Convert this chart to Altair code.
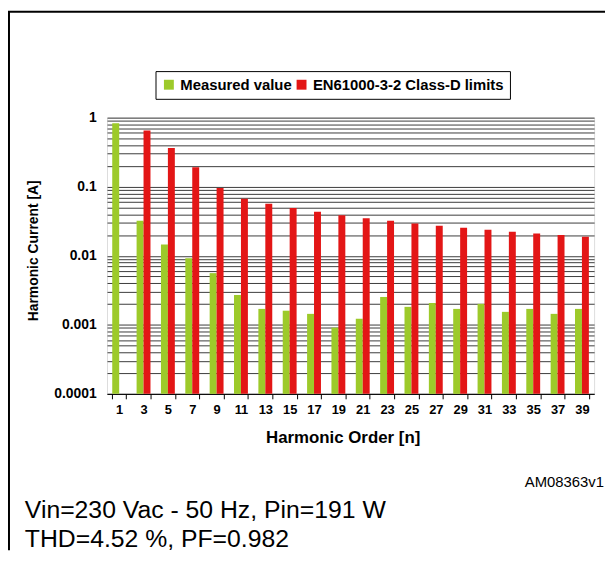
import altair as alt
import pandas as pd

# ---- data ----
orders = [1, 3, 5, 7, 9, 11, 13, 15, 17, 19, 21, 23, 25, 27, 29, 31, 33, 35, 37, 39]
measured = [0.83, 0.0322, 0.0146, 0.0092, 0.0056, 0.0027, 0.0017, 0.0016, 0.00144, 0.00091,
            0.00122, 0.00253, 0.00182, 0.00207, 0.0017, 0.00201, 0.00154, 0.0017, 0.00144, 0.0017]
limits = [None, 0.649, 0.363, 0.191, 0.0955, 0.0669, 0.0566, 0.049, 0.0433, 0.0387,
          0.035, 0.032, 0.0294, 0.0272, 0.0254, 0.0237, 0.0223, 0.021, 0.0199, 0.0189]
series_names = ["Measured value", "EN61000-3-2 Class-D limits"]
series_colors = ["#9DCA2A", "#E31616"]
y_ticks = [round(k * d, 6) for d in [0.0001, 0.001, 0.01, 0.1] for k in range(1, 10)] + [1.0]

rows = []
for n, m, l in zip(orders, measured, limits):
    rows.append({"n": n, "series": series_names[0], "value": m})
    if l is not None:
        rows.append({"n": n, "series": series_names[1], "value": l})
df = pd.DataFrame(rows)

FONT = "Liberation Sans"

bars = alt.Chart(df).mark_bar().encode(
    x=alt.X("n:O", sort=orders,
            scale=alt.Scale(paddingInner=0.43, paddingOuter=0.215),
            axis=alt.Axis(title="Harmonic Order [n]", labelAngle=0, labelFont=FONT,
                          labelFontSize=13, labelFontWeight="bold", labelColor="black",
                          labelPadding=5, tickBand="extent", tickColor="black", tickSize=5,
                          domainColor="black", titleFont=FONT, titleFontSize=17,
                          titleFontWeight="bold", titleColor="black",
                          titleX=238, titleY=49, titleBaseline="alphabetic")),
    xOffset=alt.XOffset("series:N", sort=series_names),
    y=alt.Y("value:Q", stack=None,
            scale=alt.Scale(type="log", domain=[0.0001, 1], nice=False),
            axis=alt.Axis(title="Harmonic Current [A]", values=y_ticks, format="~g",
                          labelExpr="(datum.value==1||datum.value==0.1||datum.value==0.01||datum.value==0.001||datum.value==0.0001) ? datum.label : ''",
                          labelOverlap=False, labelFont=FONT, labelFontSize=14,
                          labelFontWeight="bold", labelColor="black", labelPadding=11,
                          ticks=False, domain=False, grid=True, gridColor="#3c3c3c",
                          gridWidth=1, titleFont=FONT, titleFontSize=14,
                          titleFontWeight="bold", titleColor="black",
                          titleX=-74, titleY=134, titleBaseline="middle",
                          titleAlign="center")),
    color=alt.Color("series:N", sort=series_names,
                    scale=alt.Scale(domain=series_names, range=series_colors),
                    legend=alt.Legend(title=None, orient="none", legendX=49, legendY=-47,
                                      direction="horizontal", symbolType="square",
                                      symbolSize=100, symbolStrokeWidth=0,
                                      labelFont=FONT, labelFontSize=15,
                                      labelFontWeight="bold", labelColor="black",
                                      labelLimit=400, labelOffset=4, columnPadding=2,
                                      strokeColor="black", padding=6, fillColor="white")),
)

notes = pd.DataFrame({"text": ["AM08363v1", "Vin=230 Vac - 50 Hz, Pin=191 W", "THD=4.52 %, PF=0.982"]})

code_txt = alt.Chart(notes.iloc[[0]]).mark_text(
    font=FONT, fontSize=15, align="right", baseline="alphabetic", color="black"
).encode(text="text:N", x=alt.value(502), y=alt.value(373))

line1 = alt.Chart(notes.iloc[[1]]).mark_text(
    font=FONT, fontSize=25, align="left", baseline="alphabetic", color="black"
).encode(text="text:N", x=alt.value(-83), y=alt.value(404))

line2 = alt.Chart(notes.iloc[[2]]).mark_text(
    font=FONT, fontSize=25, align="left", baseline="alphabetic", color="black"
).encode(text="text:N", x=alt.value(-83), y=alt.value(434))

frame = pd.DataFrame({"k": [0]})
left_border = alt.Chart(frame).mark_rule(color="black", strokeWidth=2).encode(
    x=alt.value(-99), y=alt.value(-107), y2=alt.value(437))
top_border = alt.Chart(frame).mark_rule(color="black", strokeWidth=2).encode(
    x=alt.value(-100), x2=alt.value(503), y=alt.value(-107))

chart = alt.layer(bars, code_txt, line1, line2, left_border, top_border).properties(
    width=492, height=279,
    autosize=alt.AutoSizeParams(type="none"),
    padding={"left": 100, "top": 108, "right": 11, "bottom": 158},
).configure_view(stroke=None).configure(background="white")

chart.save("out.html", embed_options={"renderer": "svg", "actions": False})
